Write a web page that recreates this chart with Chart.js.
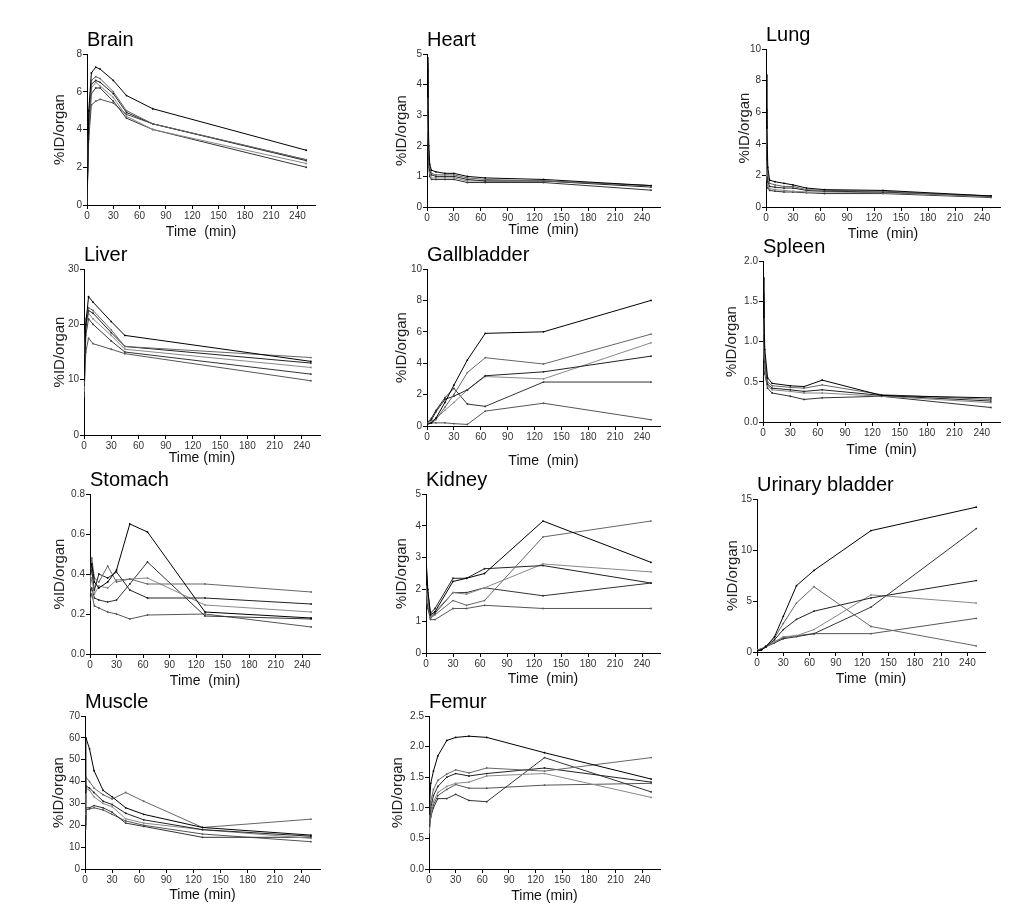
<!DOCTYPE html>
<html lang="en">
<head>
<meta charset="UTF-8">
<title>%ID/organ - organ time-activity curves</title>
<script src="https://cdn.jsdelivr.net/npm/chart.js"></script>
<style>
    body { margin: 0; background: #fff; }
    #wrap { position: relative; width: 1034px; height: 914px; overflow: hidden; }
    #wrap canvas { position: absolute; }
</style>
</head>
<body>
<div id="wrap"></div>
<script>
    // shared x ticks (min)
    const xTicks = [0, 30, 60, 90, 120, 150, 180, 210, 240];

    // Brain
    const brainTime = [0, 2, 5, 10, 15, 30, 45, 75, 250];
    const brainSeries = [
        [0, 5.0, 7.0, 7.3, 7.2, 6.6, 5.8, 5.1, 2.9],
        [0, 4.8, 6.6, 6.8, 6.7, 6.0, 5.0, 4.3, 2.4],
        [0, 4.5, 6.4, 6.6, 6.5, 5.9, 4.9, 4.3, 2.35],
        [0, 4.2, 6.2, 6.5, 6.3, 5.7, 4.7, 4.0, 2.2],
        [0, 3.8, 5.9, 6.2, 6.2, 5.5, 4.6, 4.0, 2.0],
        [0.8, 3.5, 5.3, 5.5, 5.6, 5.4, 4.8, 4.3, 2.4]
    ];
    const brainTicks = [0, 2, 4, 6, 8];

    // Heart
    const heartTime = [0, 1, 2, 3, 5, 10, 20, 30, 45, 65, 130, 250];
    const heartSeries = [
        [4.9, 3.6, 2.0, 1.4, 1.2, 1.15, 1.1, 1.1, 1.0, 0.95, 0.9, 0.7],
        [4.7, 3.2, 1.8, 1.3, 1.1, 1.05, 1.05, 1.05, 0.95, 0.9, 0.85, 0.7],
        [4.5, 3.0, 1.6, 1.2, 1.05, 1.0, 1.0, 1.0, 0.9, 0.85, 0.85, 0.65],
        [4.2, 2.5, 1.5, 1.1, 0.95, 0.95, 0.95, 0.95, 0.85, 0.85, 0.85, 0.7],
        [3.8, 2.2, 1.3, 1.0, 0.9, 0.9, 0.9, 0.9, 0.8, 0.8, 0.8, 0.55]
    ];
    const heartTicks = [0, 1, 2, 3, 4, 5];

    // Lung
    const lungTime = [0, 1, 2, 4, 10, 20, 30, 45, 65, 130, 250];
    const lungSeries = [
        [8.4, 5.0, 2.5, 1.7, 1.6, 1.5, 1.4, 1.2, 1.1, 1.05, 0.7],
        [6.2, 4.0, 2.0, 1.5, 1.4, 1.3, 1.3, 1.1, 1.05, 1.0, 0.65],
        [4.0, 3.0, 1.6, 1.3, 1.25, 1.2, 1.2, 1.05, 1.0, 0.95, 0.7],
        [3.0, 2.0, 1.3, 1.15, 1.1, 1.05, 1.0, 0.95, 0.95, 0.9, 0.65],
        [2.5, 1.8, 1.2, 1.05, 1.0, 0.95, 0.95, 0.9, 0.85, 0.85, 0.6]
    ];
    const lungTicks = [0, 2, 4, 6, 8, 10];

    // Liver
    const liverTime = [0, 2, 5, 10, 30, 45, 250];
    const liverSeries = [
        [10, 20, 25, 24, 20.5, 18, 13.3],
        [13, 21, 23, 22.5, 19, 16, 14],
        [9, 20, 22.5, 22, 18.5, 16, 13],
        [8, 19, 22, 21, 18, 15.5, 12.2],
        [7, 18, 21, 20, 17, 15, 11],
        [7, 15, 17.5, 16.5, 15.5, 14.7, 9.8]
    ];
    const liverTicks = [0, 10, 20, 30];

    // Gallbladder
    const gallTime = [0, 5, 10, 20, 30, 45, 65, 130, 250];
    const gallSeries = [
        [0.1, 0.2, 0.5, 1.5, 2.6, 4.2, 5.9, 6.0, 8.0],
        [0.1, 0.2, 0.4, 1.2, 2.0, 3.4, 4.35, 3.95, 5.85],
        [0.2, 0.4, 0.9, 1.7, 1.9, 2.3, 3.2, 3.45, 4.45],
        [0.1, 0.3, 0.5, 1.0, 1.5, 2.3, 3.15, 3.0, 5.3],
        [0.2, 0.5, 1.0, 1.8, 2.4, 1.4, 1.25, 2.8, 2.8],
        [0.2, 0.2, 0.2, 0.2, 0.15, 0.1, 0.95, 1.45, 0.4]
    ];
    const gallTicks = [0, 2, 4, 6, 8, 10];

    // Spleen
    const spleenTime = [0, 1, 2, 5, 10, 30, 45, 65, 130, 250];
    const spleenSeries = [
        [1.8, 1.3, 0.9, 0.55, 0.48, 0.45, 0.44, 0.52, 0.33, 0.3],
        [1.6, 1.1, 0.8, 0.5, 0.45, 0.43, 0.42, 0.46, 0.34, 0.28],
        [1.5, 1.0, 0.75, 0.47, 0.42, 0.4, 0.38, 0.4, 0.33, 0.26],
        [1.2, 0.9, 0.65, 0.45, 0.4, 0.38, 0.36, 0.36, 0.32, 0.24],
        [1.0, 0.8, 0.6, 0.42, 0.36, 0.32, 0.28, 0.3, 0.32, 0.18]
    ];
    const spleenTicks = [0, 0.5, 1.0, 1.5, 2.0];

    // Stomach
    const stomachTime = [0, 2, 5, 10, 20, 30, 45, 65, 130, 250];
    const stomachSeries = [
        [0.40, 0.45, 0.36, 0.33, 0.36, 0.42, 0.65, 0.61, 0.21, 0.18],
        [0.35, 0.48, 0.38, 0.36, 0.44, 0.36, 0.375, 0.35, 0.35, 0.31],
        [0.38, 0.42, 0.32, 0.40, 0.38, 0.41, 0.32, 0.28, 0.28, 0.25],
        [0.33, 0.38, 0.30, 0.34, 0.33, 0.37, 0.375, 0.38, 0.245, 0.21],
        [0.30, 0.33, 0.28, 0.27, 0.26, 0.27, 0.35, 0.46, 0.19, 0.175],
        [0.27, 0.30, 0.24, 0.23, 0.21, 0.20, 0.175, 0.195, 0.20, 0.135]
    ];
    const stomachTicks = [0, 0.2, 0.4, 0.6, 0.8];

    // Kidney
    const kidneyTime = [0, 2, 5, 10, 30, 45, 65, 130, 250];
    const kidneySeries = [
        [3.0, 2.0, 1.2, 1.3, 2.25, 2.35, 2.5, 4.15, 2.85],
        [2.1, 1.8, 1.1, 1.2, 1.65, 1.5, 1.65, 3.65, 4.15],
        [2.9, 1.9, 1.25, 1.4, 2.35, 2.35, 2.65, 2.75, 2.2],
        [2.0, 1.6, 1.15, 1.3, 1.9, 1.85, 2.05, 2.8, 2.55],
        [1.9, 1.5, 1.1, 1.25, 1.9, 1.9, 2.05, 1.8, 2.2],
        [1.7, 1.4, 1.05, 1.05, 1.4, 1.4, 1.5, 1.4, 1.4]
    ];
    const kidneyTicks = [0, 1, 2, 3, 4, 5];

    // Urinary bladder
    const bladderTime = [0, 5, 10, 20, 30, 45, 65, 130, 250];
    const bladderSeries = [
        [0.1, 0.2, 0.5, 1.5, 3.5, 6.5, 8.0, 11.9, 14.2],
        [0.2, 0.3, 0.5, 1.4, 2.8, 4.8, 6.4, 2.5, 0.6],
        [0.1, 0.2, 0.5, 1.2, 2.2, 3.2, 4.0, 5.3, 7.0],
        [0.2, 0.3, 0.5, 1.0, 1.5, 1.6, 2.2, 5.6, 4.8],
        [0.1, 0.2, 0.5, 0.9, 1.3, 1.5, 1.8, 4.4, 12.1],
        [0.2, 0.3, 0.6, 1.0, 1.4, 1.6, 1.8, 1.8, 3.3]
    ];
    const bladderTicks = [0, 5, 10, 15];

    // Muscle
    const muscleTime = [0, 1, 5, 10, 20, 30, 45, 65, 130, 250];
    const muscleSeries = [
        [35, 60, 55, 45, 36, 33, 28, 25, 19, 15.5],
        [25, 42, 40, 37, 34, 32, 35, 31, 19, 22.8],
        [20, 38, 37, 35, 31, 29.5, 25.5, 22.5, 18, 15],
        [30, 37, 36, 33, 30, 28.5, 23, 21, 18, 14],
        [18, 28, 28, 29, 28, 26, 21, 19.5, 14.5, 14.5],
        [22, 27, 27.5, 28, 27, 25, 22, 20, 16, 12.5]
    ];
    const muscleTicks = [0, 10, 20, 30, 40, 50, 60, 70];

    // Femur
    const femurTime = [0, 2, 5, 10, 20, 30, 45, 65, 130, 250];
    const femurSeries = [
        [0.9, 1.4, 1.6, 1.85, 2.1, 2.15, 2.17, 2.15, 1.9, 1.47],
        [0.75, 1.1, 1.3, 1.45, 1.55, 1.62, 1.57, 1.65, 1.6, 1.82],
        [0.7, 1.0, 1.2, 1.35, 1.5, 1.56, 1.52, 1.56, 1.65, 1.42],
        [0.6, 0.9, 1.1, 1.25, 1.35, 1.4, 1.42, 1.52, 1.56, 1.17],
        [0.55, 0.85, 1.0, 1.15, 1.15, 1.22, 1.12, 1.1, 1.82, 1.26],
        [0.65, 0.9, 1.05, 1.2, 1.3, 1.38, 1.32, 1.32, 1.37, 1.40]
    ];
    const femurTicks = [0, 0.5, 1.0, 1.5, 2.0, 2.5];

    // panel placement on the page (plot area edges in px)
    const panels = [
        { name: 'Brain', time: brainTime, series: brainSeries, yTicks: brainTicks, dec: 0, xLabel: 'Time  (min)', ax: 87, x240: 297, top: 54, bottom: 205, yOff: 27, xOff: 28 },
        { name: 'Heart', time: heartTime, series: heartSeries, yTicks: heartTicks, dec: 0, xLabel: 'Time  (min)', ax: 427, x240: 642, top: 54, bottom: 207, yOff: 25, xOff: 24 },
        { name: 'Lung', time: lungTime, series: lungSeries, yTicks: lungTicks, dec: 0, xLabel: 'Time  (min)', ax: 766, x240: 982, top: 49, bottom: 207, yOff: 21, xOff: 28 },
        { name: 'Liver', time: liverTime, series: liverSeries, yTicks: liverTicks, dec: 0, xLabel: 'Time (min)', ax: 84, x240: 302, top: 269, bottom: 435, yOff: 24, xOff: 24 },
        { name: 'Gallbladder', time: gallTime, series: gallSeries, yTicks: gallTicks, dec: 0, xLabel: 'Time  (min)', ax: 427, x240: 642, top: 269, bottom: 426, yOff: 25, xOff: 36 },
        { name: 'Spleen', time: spleenTime, series: spleenSeries, yTicks: spleenTicks, dec: 1, xLabel: 'Time  (min)', ax: 763, x240: 982, top: 261, bottom: 422, yOff: 31, xOff: 29 },
        { name: 'Stomach', time: stomachTime, series: stomachSeries, yTicks: stomachTicks, dec: 1, xLabel: 'Time  (min)', ax: 90, x240: 302, top: 494, bottom: 654, yOff: 30, xOff: 28 },
        { name: 'Kidney', time: kidneyTime, series: kidneySeries, yTicks: kidneyTicks, dec: 0, xLabel: 'Time  (min)', ax: 426, x240: 642, top: 494, bottom: 653, yOff: 24, xOff: 27 },
        { name: 'Urinary bladder', time: bladderTime, series: bladderSeries, yTicks: bladderTicks, dec: 0, xLabel: 'Time  (min)', ax: 757, x240: 967, top: 499, bottom: 652, yOff: 24, xOff: 28 },
        { name: 'Muscle', time: muscleTime, series: muscleSeries, yTicks: muscleTicks, dec: 0, xLabel: 'Time (min)', ax: 85, x240: 302, top: 716, bottom: 869, yOff: 26, xOff: 27 },
        { name: 'Femur', time: femurTime, series: femurSeries, yTicks: femurTicks, dec: 1, xLabel: 'Time (min)', ax: 429, x240: 642, top: 716, bottom: 869, yOff: 31, xOff: 28 }
    ];

    const FONT = '"Liberation Sans", Arial, sans-serif';
    const lineColors = ['#000', '#666', '#222', '#888', '#333', '#555'];
    const TOP_PAD = 30, RIGHT_PAD = 6, X_MAX = 260;

    // organ name written above the plot, flush with the y axis
    const panelTitle = {
        id: 'panelTitle',
        afterDraw(chart, args, opts) {
            const ctx = chart.ctx;
            ctx.save();
            ctx.font = '20px ' + FONT;
            ctx.fillStyle = '#000';
            ctx.textBaseline = 'alphabetic';
            ctx.textAlign = 'left';
            ctx.fillText(opts.text, chart.chartArea.left, chart.chartArea.top - 8);
            ctx.restore();
        }
    };

    const wrap = document.getElementById('wrap');

    panels.forEach(p => {
        const plotW = Math.round((p.x240 - p.ax) * X_MAX / 240);
        const yW = p.yOff + 9;          // 9 = half line height of the y title
        const xH = p.xOff + 8;          // 8 = half line height of the x title
        const w = yW + plotW + RIGHT_PAD;
        const h = TOP_PAD + (p.bottom - p.top) + xH;

        const cv = document.createElement('canvas');
        cv.width = w;
        cv.height = h;
        cv.style.left = (p.ax - yW) + 'px';
        cv.style.top = (p.top - TOP_PAD) + 'px';
        wrap.appendChild(cv);

        const yMax = p.yTicks[p.yTicks.length - 1];

        new Chart(cv.getContext('2d'), {
            type: 'line',
            data: {
                datasets: p.series.map((s, i) => ({
                    data: s.map((v, j) => ({ x: p.time[j], y: v })),
                    borderColor: lineColors[i % lineColors.length],
                    backgroundColor: lineColors[i % lineColors.length],
                    borderWidth: 1,
                    pointRadius: 0.9,
                    pointBorderWidth: 0,
                    tension: 0,
                    fill: false
                }))
            },
            options: {
                responsive: false,
                animation: false,
                devicePixelRatio: 1,
                layout: { padding: { left: 0, right: RIGHT_PAD, top: TOP_PAD, bottom: 0 } },
                plugins: {
                    legend: { display: false },
                    tooltip: { enabled: false },
                    panelTitle: { text: p.name }
                },
                scales: {
                    x: {
                        type: 'linear',
                        min: 0,
                        max: X_MAX,
                        afterBuildTicks: sc => { sc.ticks = xTicks.map(v => ({ value: v })); },
                        afterFit: sc => { sc.height = xH; },
                        ticks: { autoSkip: false, maxRotation: 0, padding: 1, color: '#333', font: { family: FONT, size: 10 } },
                        grid: { drawOnChartArea: false, drawTicks: true, tickLength: 4, tickColor: '#000' },
                        border: { display: true, color: '#000', width: 1 },
                        title: { display: true, text: p.xLabel, color: '#111', padding: 0, font: { family: FONT, size: 14 } }
                    },
                    y: {
                        type: 'linear',
                        min: 0,
                        max: yMax,
                        afterBuildTicks: sc => { sc.ticks = p.yTicks.map(v => ({ value: v })); },
                        afterFit: sc => { sc.width = yW; },
                        ticks: {
                            autoSkip: false, padding: 1, color: '#333', font: { family: FONT, size: 10 },
                            callback: v => Number(v).toFixed(p.dec)
                        },
                        grid: { drawOnChartArea: false, drawTicks: true, tickLength: 4, tickColor: '#000' },
                        border: { display: true, color: '#000', width: 1 },
                        title: { display: true, text: '%ID/organ', color: '#222', padding: 0, font: { family: FONT, size: 15 } }
                    }
                }
            },
            plugins: [panelTitle]
        });
    });
</script>
</body>
</html>
